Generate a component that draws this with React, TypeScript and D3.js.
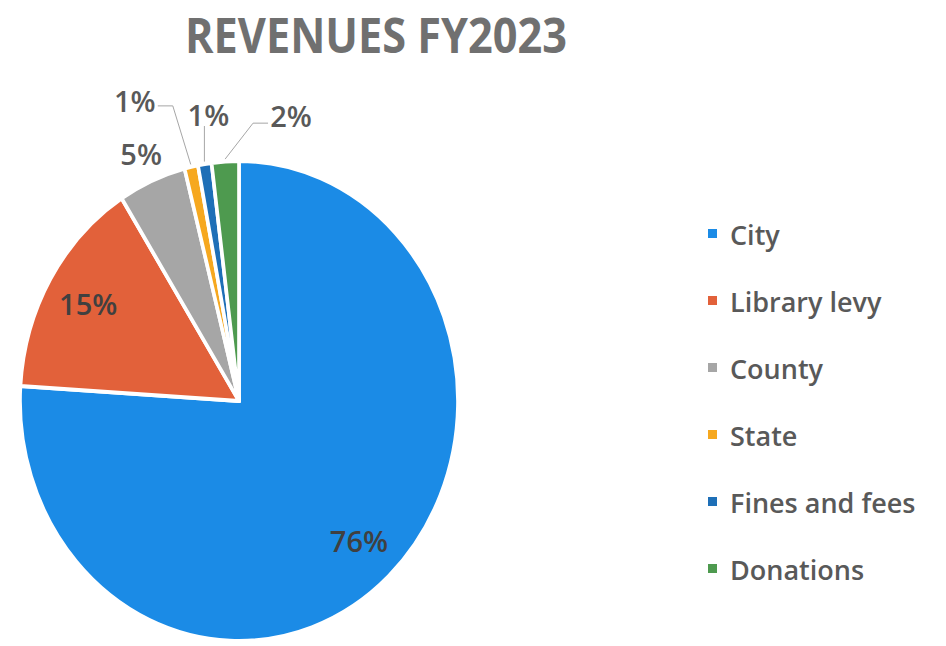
import * as d3 from "d3";
import React, { useRef, useEffect } from "react";

const categories = ["City", "Library levy", "County", "State", "Fines and fees", "Donations"];
const shares = [76, 15, 5, 1, 1, 2];
const colors = ["#1b8be6", "#e2613a", "#a6a6a6", "#f6a81f", "#1e6fb7", "#4e9a4f"];

// label placement per slice: "in" = inside, "out" = plain outside,
// "left"/"right" = leader with elbow, "up" = straight leader
const labelMode = ["in", "in", "out", "left", "up", "right"];
const labelR = [0.8, 0.8, 1.125, 1.26, 1.16, 1.16];
const elbowDx = [0, 0, 0, -6, 0, 30];

const width = 946;
const height = 646;
const cx = 239;
const cy = 401;
const rx = 219;
const ry = 240;

const RevenuePie = () => {
  const svgRef = useRef<SVGSVGElement>(null);

  useEffect(() => {
    const svg = d3.select(svgRef.current);
    svg.selectAll("*").remove();

    const font = "'Open Sans', 'DejaVu Sans', sans-serif";
    const data = categories.map((c, i) => ({ name: c, value: shares[i], color: colors[i], i }));
    const pie = d3.pie<any>().value((d) => d.value).sort(null);
    const arcs = pie(data);

    // title
    svg
      .append("text")
      .attr("x", 376)
      .attr("y", 53)
      .attr("text-anchor", "middle")
      .attr("font-family", font)
      .attr("font-weight", 700)
      .attr("font-size", 48)
      .attr("fill", "#707070")
      .attr("textLength", 382)
      .attr("lengthAdjust", "spacingAndGlyphs")
      .text("REVENUES FY2023");

    // pie drawn on a circle then stretched into the ellipse
    const arc = d3.arc<any>().innerRadius(0).outerRadius(ry);
    const slices = svg.append("g").attr("transform", `translate(${cx},${cy}) scale(${rx / ry},1)`);
    slices
      .selectAll("path")
      .data(arcs)
      .join("path")
      .attr("d", arc)
      .attr("fill", (d) => d.data.color)
      .attr("stroke", "#fff")
      .attr("stroke-width", 4)
      .attr("stroke-linejoin", "round");

    const pt = (angle: number, r: number): [number, number] => [
      cx + Math.sin(angle) * r * rx,
      cy - Math.cos(angle) * r * ry,
    ];

    const labels = svg.append("g").attr("font-family", font).attr("font-weight", 600).attr("font-size", 29);
    const leader = (d: string) =>
      labels.append("path").attr("d", d).attr("fill", "none").attr("stroke", "#a6a6a6").attr("stroke-width", 1);
    const addText = (x: number, y: number, txt: string, fill: string) =>
      labels
        .append("text")
        .attr("x", x)
        .attr("y", y)
        .attr("text-anchor", "middle")
        .attr("dominant-baseline", "central")
        .attr("fill", fill)
        .text(txt);

    arcs.forEach((a, i) => {
      const mid = (a.startAngle + a.endAngle) / 2;
      const txt = `${a.data.value}%`;
      const mode = labelMode[i];
      const [lx, ly] = pt(mid, labelR[i]);
      const [sx0, sy0] = pt(mid, 1.01);
      if (mode === "in") {
        addText(lx, ly, txt, "#404040");
      } else if (mode === "out") {
        addText(lx, ly, txt, "#595959");
      } else if (mode === "up") {
        leader(`M${sx0},${sy0}L${sx0},${ly}`);
        addText(sx0 + 4, ly - 12, txt, "#595959");
      } else {
        const ex = lx + elbowDx[i];
        const dir = mode === "left" ? -1 : 1;
        const endX = ex + dir * 15;
        leader(`M${sx0},${sy0}L${ex},${ly}L${endX},${ly}`);
        addText(endX + dir * 23, ly - (dir < 0 ? 5 : 8), txt, "#595959");
      }
    });

    // legend
    const legend = svg.append("g").attr("transform", "translate(708,234)");
    const row = legend
      .selectAll("g")
      .data(data)
      .join("g")
      .attr("transform", (d) => `translate(0,${d.i * 67})`);
    row
      .append("rect")
      .attr("x", 0)
      .attr("y", -5)
      .attr("width", 9)
      .attr("height", 9)
      .attr("fill", (d) => d.color);
    row
      .append("text")
      .attr("x", 22)
      .attr("y", 0)
      .attr("dominant-baseline", "central")
      .attr("font-family", font)
      .attr("font-weight", 600)
      .attr("font-size", 27)
      .attr("fill", "#595959")
      .text((d) => d.name);
  }, []);

  return (
    <svg
      ref={svgRef}
      width={width}
      height={height}
      style={{ position: "absolute", left: 0, top: 0, background: "#fff" }}
    />
  );
};

export default function App() {
  return <RevenuePie />;
}
